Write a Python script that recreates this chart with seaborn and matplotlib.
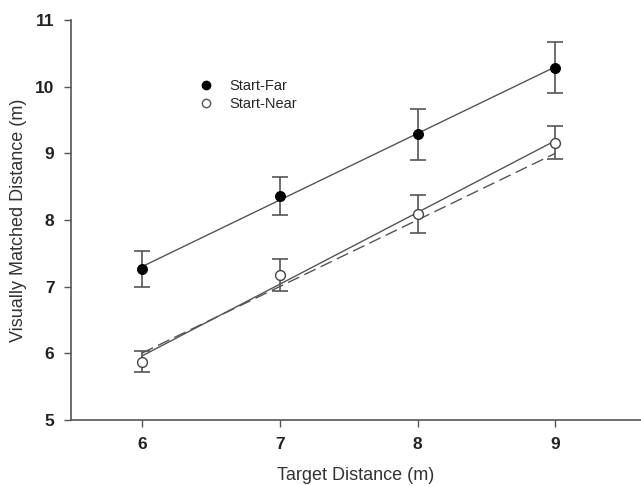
import numpy as np
import pandas as pd
import seaborn as sns
import matplotlib
matplotlib.use("Agg")
import matplotlib.pyplot as plt
from matplotlib.lines import Line2D

targets = [6, 7, 8, 9]
far_mean = [7.26, 8.36, 9.285, 10.285]
far_err = [0.27, 0.28, 0.38, 0.38]
near_mean = [5.875, 7.17, 8.09, 9.16]
near_err = [0.16, 0.24, 0.28, 0.25]
x_ticks = [6, 7, 8, 9]
y_ticks = [5, 6, 7, 8, 9, 10, 11]

sns.set_style("ticks")
plt.rcParams['font.family'] = ['Liberation Sans', 'DejaVu Sans']

fig = plt.figure(figsize=(6.41, 4.86), dpi=100)
ax = fig.add_axes([0.111, 0.136, 0.889, 0.823])

gray = '#555555'
df_far = pd.DataFrame({'x': targets, 'y': far_mean})
df_near = pd.DataFrame({'x': targets, 'y': near_mean})

# identity line (dashed)
sns.lineplot(x=targets, y=targets, ax=ax, color=gray, lw=1.0, linestyle=(0, (9, 4)))

# regression lines
sns.regplot(data=df_far, x='x', y='y', ax=ax, scatter=False, ci=None, truncate=True,
            line_kws=dict(color=gray, lw=1.0))
sns.regplot(data=df_near, x='x', y='y', ax=ax, scatter=False, ci=None, truncate=True,
            line_kws=dict(color=gray, lw=1.0))

# error bars
ax.errorbar(targets, far_mean, yerr=far_err, fmt='none', ecolor=gray, elinewidth=1.2,
            capsize=6, capthick=1.2, zorder=3)
ax.errorbar(targets, near_mean, yerr=near_err, fmt='none', ecolor=gray, elinewidth=1.2,
            capsize=6, capthick=1.2, zorder=3)

# markers
sns.scatterplot(data=df_far, x='x', y='y', ax=ax, color='black', edgecolor='black',
                s=50, marker='o', zorder=4, linewidth=0.8)
sns.scatterplot(data=df_near, x='x', y='y', ax=ax, color='white', edgecolor='#444444',
                s=50, marker='o', zorder=4, linewidth=1.0)

ax.set_xlim(5.488, 9.62)
ax.set_ylim(5, 11)
ax.set_xticks(x_ticks)
ax.set_yticks(y_ticks)
ax.set_xticklabels([str(t) for t in x_ticks], fontsize=12.5, fontweight='bold', color='#222222')
ax.set_yticklabels([str(t) for t in y_ticks], fontsize=12.5, fontweight='bold', color='#222222')
ax.set_xlabel('Target Distance (m)', fontsize=13, color='#333333', labelpad=11)
ax.set_ylabel('Visually Matched Distance (m)', fontsize=13, color='#333333', labelpad=6)

for side in ['top', 'right']:
    ax.spines[side].set_visible(False)
for side in ['left', 'bottom']:
    ax.spines[side].set_color(gray)
    ax.spines[side].set_linewidth(1.2)
ax.tick_params(axis='both', direction='out', length=5, width=1.0, color=gray, pad=7)

handles = [
    Line2D([], [], marker='o', color='none', markerfacecolor='black', markeredgecolor='black', markersize=6),
    Line2D([], [], marker='o', color='none', markerfacecolor='white', markeredgecolor='#555555', markersize=6),
]
ax.legend(handles, ['Start-Far', 'Start-Near'], loc='upper left', bbox_to_anchor=(0.2, 0.885),
          frameon=False, fontsize=10.5, handletextpad=1.1, labelspacing=0.3, handlelength=1.0)

fig.savefig('out.png', dpi=100)
